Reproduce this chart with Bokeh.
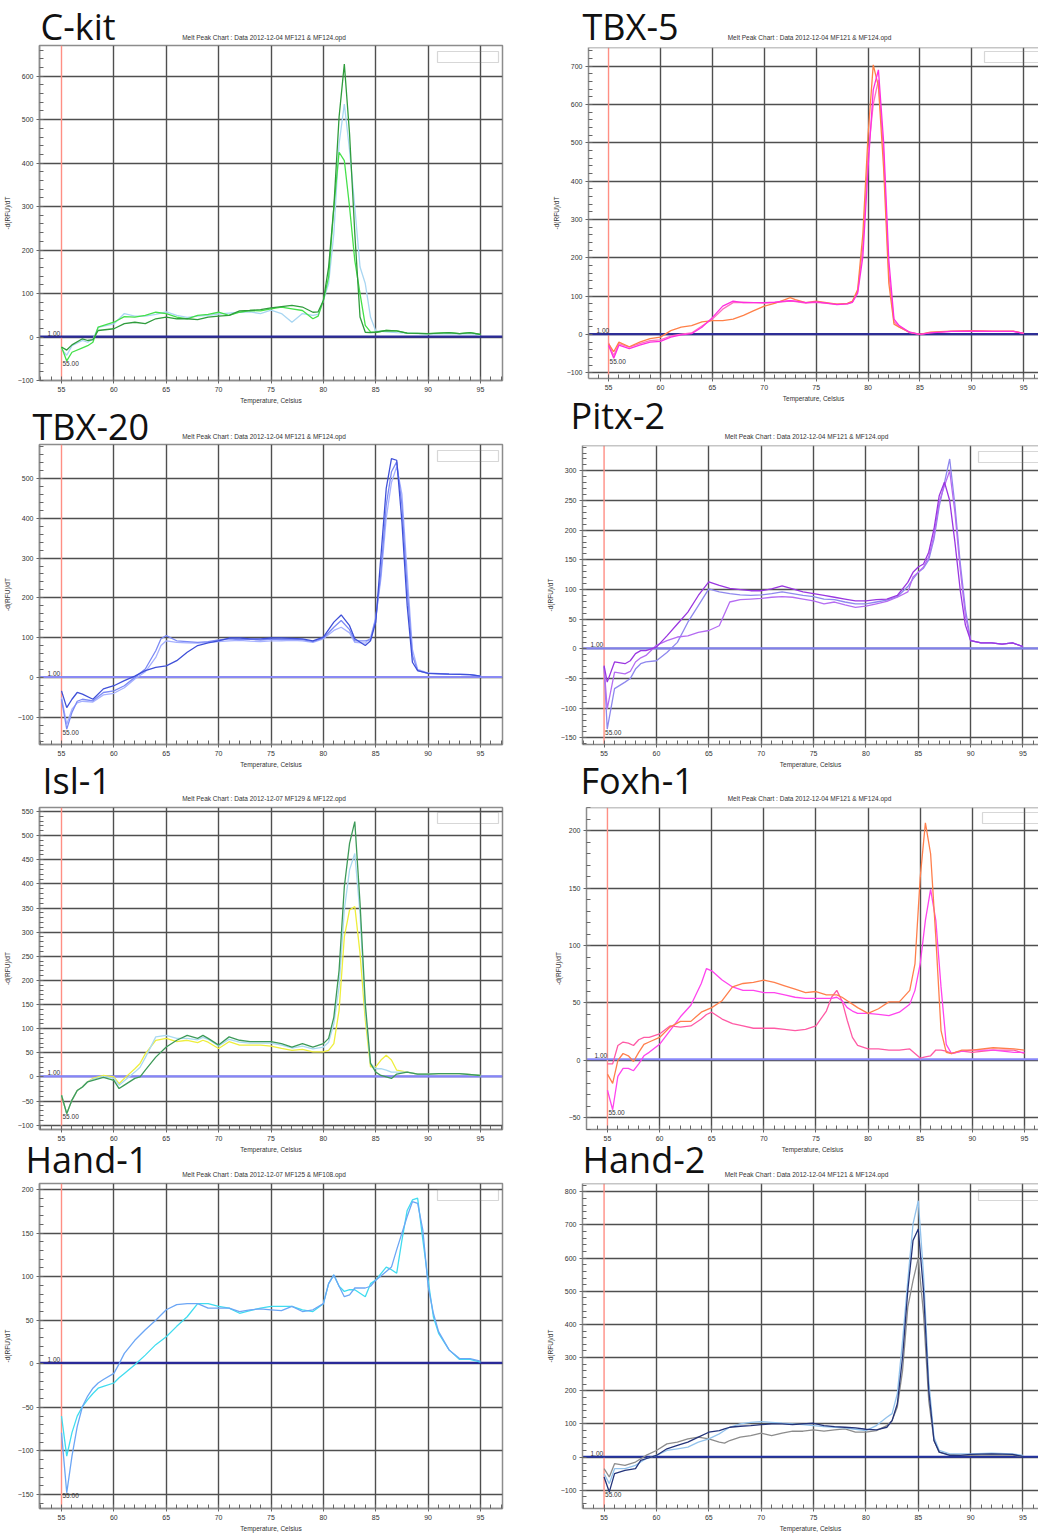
from bokeh.plotting import figure
from bokeh.layouts import row, column
from bokeh.core.properties import value
from bokeh.models import (Range1d, FixedTicker, SingleIntervalTicker,
                          Span, Label, BoxAnnotation)
from bokeh.embed import file_html
from bokeh.resources import INLINE

TITLE_FONT = "Open Sans"
SMALL_FONT = "Liberation Sans"

temp_ticks = [55, 60, 65, 70, 75, 80, 85, 90, 95]
temp_minor_ticks = list(range(53, 98))
grid_temps = [60, 65, 70, 75, 80, 85, 90, 95]
start_temp = 55.00
threshold = 1.00
x_title = "Temperature, Celsius"
y_title = "-d(RFU)/dT"

# ---------------- C-kit ----------------
ckit_temp = [55, 55.5, 56, 57, 57.5, 58, 58.5, 60, 61, 62, 63, 64, 65, 66, 67, 68, 69, 70, 71, 72,
             73, 74, 75, 76, 77, 78, 79, 79.5, 80, 80.5, 81, 81.5, 82, 82.5, 83, 83.5, 84, 84.5, 85, 86,
             87, 88, 90, 92, 93, 94, 95]
ckit_dark = [-23, -30, -18, -4, -8, -6, 15, 19, 31, 34, 31, 42, 46, 42, 42, 40, 46, 48, 50, 60,
             61, 63, 67, 70, 73, 69, 57, 58, 84, 161, 299, 506, 628, 467, 238, 46, 11, 10, 11, 15,
             14, 9, 8, 10, 8, 10, 6]
ckit_bright = [-23, -55, -35, -25, -20, -12, 23, 34, 47, 46, 50, 57, 54, 46, 42, 50, 52, 57, 50, 57,
               61, 60, 65, 69, 65, 61, 42, 48, 84, 138, 299, 425, 406, 299, 176, 100, 27, 12, 11, 15,
               14, 9, 8, 10, 8, 10, 6]
ckit_pale = [-28, -42, -20, -8, -12, -5, 22, 30, 54, 48, 48, 52, 58, 50, 45, 48, 50, 53, 55, 57,
             58, 54, 62, 54, 34, 54, 50, 52, 84, 123, 238, 444, 536, 429, 299, 161, 123, 46, 14, 12,
             10, 9, 7, 8, 7, 8, 5]

# ---------------- TBX-5 ----------------
tbx5_temp = [55, 55.5, 56, 57, 58, 59, 60, 61, 62, 63, 64, 65, 66, 67, 68, 69, 70, 71, 72, 72.5,
             73, 74, 75, 76, 77, 78, 78.5, 79, 79.5, 80, 80.5, 81, 81.5, 82, 82.5, 83, 84, 85, 86, 88,
             90, 92, 94, 95]
tbx5_orange = [-24, -45, -20, -32, -20, -11, -7, 10, 19, 23, 33, 36, 36, 40, 50, 62, 74, 81, 91, 96,
               91, 83, 87, 83, 79, 81, 87, 117, 262, 519, 703, 647, 433, 134, 27, 19, 6, 0, 6, 9,
               10, 9, 9, 3]
tbx5_magenta = [-28, -62, -28, -37, -28, -20, -18, -7, -1, 2, 19, 44, 74, 87, 83, 83, 83, 84, 87, 88,
                87, 83, 85, 82, 78, 80, 84, 108, 203, 433, 638, 690, 502, 194, 40, 23, 6, 0, 4, 8,
                9, 8, 8, 3]
tbx5_pink = [-22, -55, -24, -33, -24, -16, -14, -4, 1, 4, 22, 40, 66, 83, 84, 83, 82, 83, 86, 88,
             86, 82, 84, 81, 79, 80, 85, 112, 230, 470, 600, 664, 470, 160, 33, 20, 5, 0, 5, 8,
             9, 8, 8, 3]

# ---------------- TBX-20 ----------------
tbx20_temp = [55, 55.5, 56, 56.5, 57, 58, 59, 60, 61, 62, 63, 64, 64.5, 65, 66, 67, 68, 69, 70, 71,
              72, 73, 74, 75, 76, 77, 78, 79, 80, 81, 81.7, 82.5, 83, 84, 84.5, 85, 85.5, 86, 86.5, 87,
              87.5, 88, 88.5, 89, 90, 92, 94, 95]
tbx20_dark = [-34, -76, -55, -38, -42, -55, -29, -21, -8, 3, 17, 25, 27, 29, 42, 63, 80, 87, 92, 99,
              99, 97, 97, 99, 99, 98, 97, 92, 101, 139, 157, 130, 97, 80, 92, 139, 307, 475, 550, 546,
              391, 181, 38, 17, 10, 8, 7, 3]
tbx20_mid = [-55, -130, -88, -60, -55, -59, -38, -34, -21, 0, 21, 67, 97, 105, 92, 90, 88, 90, 94, 97,
             95, 96, 94, 96, 95, 96, 95, 90, 99, 126, 143, 120, 92, 92, 95, 147, 265, 433, 517, 542,
             433, 223, 55, 17, 10, 8, 7, 3]
tbx20_pale = [-50, -118, -80, -64, -60, -62, -44, -40, -26, -4, 14, 50, 80, 92, 88, 87, 86, 88, 90, 92,
              93, 91, 90, 92, 92, 93, 92, 88, 97, 118, 126, 112, 88, 86, 100, 150, 250, 400, 490, 530,
              460, 260, 70, 20, 11, 8, 7, 3]

# ---------------- Pitx-2 ----------------
pitx2_temp = [55, 55.3, 56, 57, 57.5, 58, 58.5, 59, 60, 61, 62, 63, 64, 65, 66, 67, 68, 69, 70, 71,
              72, 73, 74, 75, 76, 77, 78, 79, 80, 81, 82, 83, 84, 84.5, 85, 85.5, 86, 86.5, 87, 87.5,
              88, 88.5, 89, 89.5, 90, 91, 92, 93, 94, 95]
pitx2_purple = [-28, -56, -22, -25, -20, -8, -3, -3, 3, 22, 42, 62, 90, 113, 107, 102, 100, 98, 98, 101,
                106, 101, 96, 93, 90, 87, 84, 81, 81, 83, 84, 90, 112, 129, 138, 143, 163, 202, 258, 281,
                250, 180, 100, 40, 14, 10, 10, 8, 10, 4]
pitx2_violet = [-30, -101, -39, -42, -38, -22, -15, -11, 6, 14, 20, 22, 28, 31, 39, 79, 83, 84, 85, 87,
                88, 87, 84, 81, 76, 79, 74, 70, 72, 76, 80, 87, 96, 121, 129, 138, 155, 191, 247, 275,
                300, 230, 135, 56, 14, 10, 10, 8, 10, 4]
pitx2_lilac = [-30, -135, -67, -56, -50, -34, -25, -22, -20, -6, 11, 45, 73, 101, 96, 93, 91, 90, 91, 93,
               96, 93, 90, 88, 84, 83, 79, 76, 76, 79, 82, 88, 105, 118, 129, 136, 150, 185, 240, 280,
               320, 242, 146, 67, 14, 10, 10, 8, 10, 4]

# ---------------- Isl-1 ----------------
isl1_temp = [55, 55.5, 56, 56.5, 57, 57.5, 58, 59, 60, 60.5, 61, 62, 62.5, 63, 64, 65, 66, 67, 68, 68.5,
             69, 70, 71, 72, 73, 74, 75, 76, 77, 78, 79, 80, 80.5, 81, 81.5, 82, 82.5, 83, 83.5, 84,
             84.5, 85, 85.5, 86, 86.5, 87, 88, 89, 90, 91, 93, 95]
isl1_green = [-38, -76, -48, -28, -21, -10, -7, -1, -7, -24, -17, -3, 0, 14, 41, 62, 76, 86, 80, 86,
              80, 66, 83, 76, 73, 73, 73, 69, 62, 69, 62, 69, 80, 124, 221, 394, 484, 529, 360, 152,
              28, 10, 3, 0, -3, 6, 10, 6, 6, 7, 7, 3]
isl1_blue = [-38, -76, -48, -28, -21, -10, -5, 1, -3, -17, -8, 10, 20, 40, 83, 86, 80, 80, 77, 82,
             78, 64, 78, 72, 70, 70, 70, 66, 60, 64, 58, 62, 72, 110, 187, 346, 429, 463, 337, 138,
             28, 17, 17, 14, 10, 10, 10, 6, 6, 7, 7, 3]
isl1_yellow = [-38, -76, -48, -28, -21, -10, -3, 3, 0, -14, -3, 17, 28, 48, 76, 80, 73, 76, 71, 76,
               72, 59, 73, 66, 66, 66, 64, 59, 55, 57, 52, 52, 55, 69, 138, 290, 346, 353, 256, 118,
               21, 21, 35, 45, 35, 14, 10, 6, 6, 7, 7, 3]

# ---------------- Foxh-1 ----------------
foxh1_temp = [55, 55.5, 56, 56.5, 57, 57.5, 58, 58.5, 59, 60, 61, 62, 63, 64, 64.5, 65, 66, 67, 68, 69,
              70, 71, 72, 73, 74, 75, 76, 76.5, 77, 77.5, 78, 78.5, 79, 80, 81, 82, 83, 84, 84.5, 85,
              85.5, 86, 86.5, 87, 87.5, 88, 89, 90, 92, 94, 95]
foxh1_magenta = [-26, -43, -14, -7, -7, -9, -3, 4, 7, 14, 26, 38, 48, 67, 80, 78, 70, 64, 61, 61,
                 59, 59, 57, 55, 54, 54, 54, 54, 55, 52, 46, 43, 41, 41, 40, 39, 42, 49, 61, 84,
                 122, 149, 122, 64, 14, 6, 8, 9, 9, 7, 7]
foxh1_orange = [-12, -20, 0, 6, 4, -1, 7, 14, 16, 20, 29, 34, 34, 42, 44, 46, 52, 64, 67, 68,
                70, 68, 65, 62, 59, 60, 57, 57, 57, 55, 52, 49, 46, 41, 45, 51, 51, 61, 84, 159,
                207, 180, 107, 26, 7, 6, 9, 9, 11, 10, 9]
foxh1_pink = [-3, -3, 13, 16, 15, 13, 18, 20, 20, 23, 30, 29, 30, 36, 40, 42, 36, 32, 30, 28,
              28, 28, 27, 26, 27, 30, 43, 55, 61, 52, 35, 20, 13, 10, 10, 9, 9, 10, 6, 2,
              3, 4, 9, 9, 8, 6, 8, 7, 9, 9, 6]

# ---------------- Hand-1 ----------------
hand1_temp = [55, 55.5, 56, 56.5, 57, 57.5, 58, 58.5, 59, 60, 60.5, 61, 62, 63, 64, 65, 66, 67, 68, 69,
              70, 71, 72, 73, 74, 75, 76, 77, 78, 79, 80, 80.5, 81, 81.5, 82, 82.5, 83, 84, 84.5, 85,
              86, 86.5, 87, 87.5, 88, 88.5, 89, 89.5, 90, 90.5, 91, 92, 93, 94, 95]
hand1_blue = [-79, -148, -106, -72, -49, -37, -28, -22, -18, -11, 0, 12, 27, 39, 50, 62, 68, 69, 69, 64,
              64, 64, 60, 62, 63, 62, 61, 66, 60, 62, 69, 92, 102, 89, 77, 79, 87, 87, 89, 96,
              106, 111, 131, 150, 169, 186, 184, 153, 89, 58, 37, 16, 6, 6, 3]
hand1_cyan = [-60, -106, -79, -60, -49, -41, -34, -28, -26, -22, -16, -11, -1, 10, 22, 31, 43, 54, 69, 69,
              66, 64, 58, 61, 64, 66, 66, 66, 62, 60, 69, 92, 102, 89, 83, 85, 85, 77, 92, 96,
              111, 108, 104, 142, 176, 188, 190, 142, 96, 54, 35, 16, 5, 5, 2]

# ---------------- Hand-2 ----------------
hand2_temp = [55, 55.5, 56, 57, 58, 58.5, 59, 60, 61, 62, 63, 64, 65, 66, 66.5, 67, 68, 69, 70, 71,
              72, 73, 74, 75, 76, 77, 78, 79, 80, 81, 82, 82.5, 83, 83.5, 84, 84.5, 85, 85.5, 86, 86.5,
              87, 88, 89, 90, 92, 94, 95]
hand2_navy = [-60, -105, -50, -40, -35, -10, -5, 5, 25, 35, 45, 60, 75, 80, 85, 90, 93, 95, 98, 100,
              100, 98, 100, 102, 95, 92, 90, 88, 84, 82, 90, 110, 161, 301, 502, 653, 688, 502, 201, 50,
              15, 5, 5, 8, 10, 8, 2]
hand2_sky = [-50, -80, -35, -35, -25, -15, -5, 5, 20, 25, 30, 45, 55, 70, 80, 90, 100, 105, 107, 105,
             102, 100, 98, 95, 92, 90, 88, 84, 80, 95, 120, 131, 191, 351, 532, 703, 773, 552, 231, 60,
             20, 10, 10, 10, 12, 10, 5]
hand2_gray = [-35, -60, -20, -25, -15, -5, 5, 20, 40, 45, 55, 60, 55, 45, 42, 50, 60, 65, 72, 65,
              72, 78, 78, 82, 78, 82, 85, 75, 75, 80, 95, 110, 151, 261, 452, 532, 600, 432, 171, 50,
              15, 8, 6, 5, 7, 6, 2]

run_1204 = "Melt Peak Chart : Data 2012-12-04 MF121 & MF124.opd"
run_1207a = "Melt Peak Chart : Data 2012-12-07 MF129 & MF122.opd"
run_1207b = "Melt Peak Chart : Data 2012-12-07 MF125 & MF108.opd"

GRID = "#4f4f4f"
EDGE = "#8c8c8c"
TEXT = "#333333"
TITLE_SIZE = "36px"
# the text glyph places an "alphabetic" anchor about this far above the drawn baseline
BASELINE_SHIFT = 13
# the head strip reaches this far below the chart's top edge (hidden under the chart)
HEAD_OVERLAP = 8


def style_axis(ax, label_standoff, title_standoff):
    ax.axis_line_color = EDGE
    ax.axis_line_width = 1.5
    ax.major_tick_line_color = "#666666"
    ax.major_tick_in = 0
    ax.major_tick_out = 3
    ax.minor_tick_line_color = "#666666"
    ax.minor_tick_in = 4
    ax.minor_tick_out = 0
    ax.major_label_text_font = SMALL_FONT
    ax.major_label_text_font_size = "7px"
    ax.major_label_text_color = TEXT
    ax.major_label_standoff = label_standoff
    ax.axis_label_text_font = SMALL_FONT
    ax.axis_label_text_font_size = "6.5px"
    ax.axis_label_text_font_style = "normal"
    ax.axis_label_text_color = TEXT
    ax.axis_label_standoff = title_standoff


def head_band(gene, run_file, width, height, title_xy, sub_xy, margin_top):
    """Transparent strip above a chart holding the gene name and the run file name."""
    h = figure(width=width, height=height, x_range=Range1d(0, width), y_range=Range1d(0, height),
               x_axis_type=None, y_axis_type=None, output_backend="svg", toolbar_location=None,
               min_border=0, outline_line_color=None, frame_align=False,
               background_fill_alpha=0, border_fill_alpha=0,
               margin=(margin_top, 0, 0, 0))
    h.grid.visible = False
    h.text(x=[title_xy[0]], y=[title_xy[1] + BASELINE_SHIFT], text=[gene],
           text_font=value(TITLE_FONT), text_font_size=value(TITLE_SIZE), text_color="#111111",
           text_align="left", text_baseline="alphabetic")
    h.text(x=[sub_xy[0]], y=[sub_xy[1]], text=[run_file], text_font=value(SMALL_FONT),
           text_font_size=value("6.5px"), text_color=TEXT,
           text_align="center", text_baseline="middle")
    return h


def melt_panel(gene, run_file, temps, curves, colors, y_lim, y_step, x_lim,
               width, head_h, chart_h, border, title_at, sub_at, base_color, right_col,
               margin_top=0, head_reach=0):
    b_left, b_right, b_bottom = border
    fw = width - b_left - b_right
    fh = chart_h - 1 - b_bottom

    tdx, tup = title_at
    sdx, sup = sub_at
    lift = HEAD_OVERLAP - 1
    head = head_band(gene, run_file, width, head_h + head_reach + HEAD_OVERLAP,
                     (b_left + tdx, tup + lift), (b_left + fw / 2 + sdx, sup + lift),
                     margin_top - head_reach)

    p = figure(width=width, height=chart_h,
               x_range=Range1d(*x_lim), y_range=Range1d(*y_lim),
               output_backend="svg", toolbar_location=None, frame_align=False,
               min_border_left=b_left, min_border_right=b_right,
               min_border_top=1, min_border_bottom=b_bottom,
               x_axis_label=x_title, y_axis_label=y_title,
               background_fill_color="white", border_fill_alpha=0,
               margin=(-HEAD_OVERLAP, 0, 0, 0))

    p.xaxis.ticker = FixedTicker(ticks=temp_ticks, minor_ticks=temp_minor_ticks)
    p.yaxis.ticker = SingleIntervalTicker(interval=y_step, num_minor_ticks=5)
    style_axis(p.xaxis[0], 3, 2)
    style_axis(p.yaxis[0], 3, 4)

    p.xgrid.ticker = FixedTicker(ticks=grid_temps)
    p.xgrid.grid_line_color = GRID
    p.xgrid.grid_line_width = 1.4
    p.ygrid.grid_line_color = GRID
    p.ygrid.grid_line_width = 1.4

    if right_col:
        # the panel runs off the right edge: only the top edge is drawn
        p.outline_line_color = None
        p.add_layout(Span(location=y_lim[1], dimension="width", line_color=EDGE, line_width=1.5))
    else:
        p.outline_line_color = EDGE
        p.outline_line_width = 1.5

    # start-temperature marker and threshold line
    p.add_layout(Span(location=start_temp, dimension="height", line_color="#ff8f84",
                      line_width=1.4, level="underlay"))
    p.add_layout(Span(location=threshold, dimension="width", line_color=base_color,
                      line_width=2.2, level="underlay"))

    for ys, c in zip(curves, colors):
        p.line(temps, ys, line_color=c, line_width=1.3)

    # empty legend box in the top-right corner
    if right_col:
        lb_left, lb_right = 396, fw + 30
    else:
        lb_left, lb_right = fw - 65, fw - 4
    p.add_layout(BoxAnnotation(left=lb_left, right=lb_right, top=fh - 6, bottom=fh - 17,
                               left_units="screen", right_units="screen",
                               top_units="screen", bottom_units="screen",
                               fill_alpha=0, line_color="#7a7a7a", line_width=1.2))

    lowest = min(min(ys) for ys in curves)
    p.add_layout(Label(x=8, y=threshold, x_units="screen", y_units="data",
                       text=f"{threshold:.2f}", text_font=SMALL_FONT, text_font_size="6.5px",
                       text_color=TEXT, text_baseline="bottom", y_offset=1))
    p.add_layout(Label(x=start_temp, y=lowest, x_units="data", y_units="data",
                       text=f"{start_temp:.2f}", text_font=SMALL_FONT, text_font_size="6.5px",
                       text_color=TEXT, text_baseline="middle", x_offset=1, y_offset=-3))
    return head, p


LEFT_X = (52.9, 97.1)

ckit = melt_panel("C-kit", run_1204, ckit_temp, [ckit_pale, ckit_bright, ckit_dark],
                  ["#a9d6f2", "#45e04a", "#2f9c3c"], (-100, 670.6), 100, LEFT_X,
                  520, 44, 364, (39, 18, 28), (1, 6.5), (-7, 8), "#2a2a98", False)
tbx20 = melt_panel("TBX-20", run_1204, tbx20_temp, [tbx20_pale, tbx20_mid, tbx20_dark],
                   ["#a6b1ff", "#7c8af5", "#3f50d8"], (-168.8, 585.6), 100, LEFT_X,
                   520, 35, 327, (39, 18, 26), (-7, 5), (-7, 8), "#8a8af4", False,
                   head_reach=9)
isl1 = melt_panel("Isl-1", run_1207a, isl1_temp, [isl1_yellow, isl1_blue, isl1_green],
                  ["#eeee3c", "#a9d9f0", "#3d9a58"], (-108.9, 558.3), 50, LEFT_X,
                  520, 36, 349, (39, 18, 25), (3, 14), (-7, 9), "#8585fa", False,
                  head_reach=17)
hand1 = melt_panel("Hand-1", run_1207b, hand1_temp, [hand1_cyan, hand1_blue],
                   ["#40dcef", "#6ca6f5"], (-166, 206.9), 50, LEFT_X,
                   520, 41, 352, (39, 18, 26), (-14, 11), (-7, 9), "#2a2a98", False,
                   margin_top=-14, head_reach=9)

tbx5 = melt_panel("TBX-5", run_1204, tbx5_temp, [tbx5_pink, tbx5_orange, tbx5_magenta],
                  ["#ff70c0", "#ff8048", "#ff2ee0"], (-114.8, 748.4), 100, (53.07, 96.42),
                  518, 46, 358, (68, 0, 24), (-6, 8.5), (-4, 10), "#2e2e96", True)
pitx2 = melt_panel("Pitx-2", run_1204, pitx2_temp, [pitx2_lilac, pitx2_violet, pitx2_purple],
                   ["#8f88ee", "#b56cf2", "#9a36e0"], (-161.1, 342.7), 50, (52.94, 96.48),
                   518, 46, 326, (62, 0, 26), (-12, 17), (-4, 9), "#8080ea", True,
                   margin_top=-6, head_reach=10)
foxh1 = melt_panel("Foxh-1", run_1204, foxh1_temp, [foxh1_pink, foxh1_magenta, foxh1_orange],
                   ["#ff5aa5", "#ff44ee", "#ff7f4c"], (-60.2, 220.3), 50, (52.99, 96.35),
                   518, 36, 349, (66, 0, 25), (-6, 14), (-3, 9), "#8888fa", True,
                   head_reach=17)
hand2 = melt_panel("Hand-2", run_1204, hand2_temp, [hand2_gray, hand2_sky, hand2_navy],
                   ["#8c8c8c", "#92c2ec", "#24347a"], (-155, 825), 100, (52.94, 96.48),
                   518, 41, 352, (62, 0, 26), (0, 11), (-4, 9), "#2232a0", True,
                   margin_top=-14, head_reach=9)

left_col = column(*ckit, *tbx20, *isl1, *hand1, spacing=0)
right_col = column(*tbx5, *pitx2, *foxh1, *hand2, spacing=0)
page = row(left_col, right_col, spacing=0)

open("out.html", "w").write(file_html(page, INLINE, title="Melt peak charts"))
